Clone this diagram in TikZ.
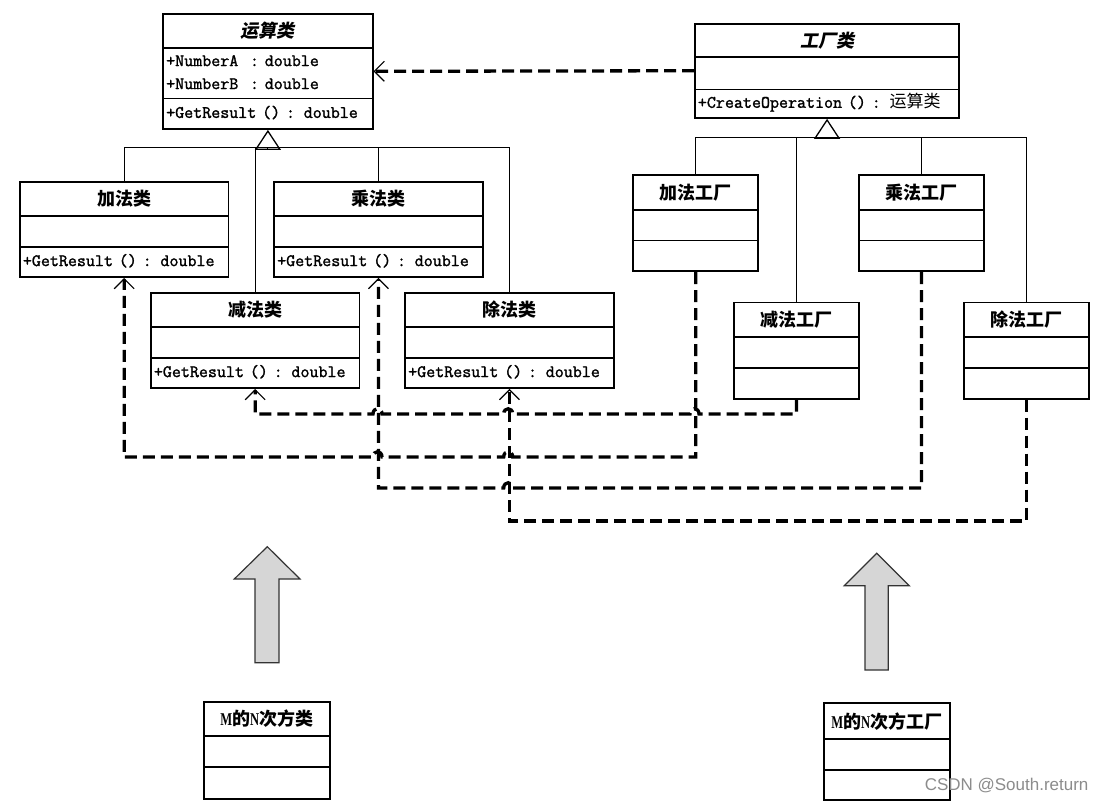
\documentclass[tikz,border=0pt]{standalone}
\usepackage{fontspec}
\usepackage{graphicx}
\setmonofont{Latin Modern Mono}[FakeBold=1.5]
\newfontfamily\cjk{Noto Sans CJK SC}
\newfontfamily\cjkit{Noto Sans CJK SC}[FakeSlant=0.2]
\newfontfamily\mnserif{Liberation Serif}
\newfontfamily\wmark{Liberation Sans}
\usetikzlibrary{positioning,shapes.multipart,arrows.meta}
\definecolor{blockgray}{RGB}{214,214,214}
\newcommand{\strt}[2]{\leavevmode\vrule width 0pt height #1pt depth #2pt\relax}
\newcommand{\ctitle}[3]{\makebox[\linewidth]{\strt{#1}{#2}\fontsize{18}{20}\selectfont\cjk\bfseries #3}}
\newcommand{\atitle}[3]{\makebox[\linewidth]{\strt{#1}{#2}\fontsize{18}{20}\selectfont\cjkit\bfseries #3}}
\newcommand{\mn}[1]{\scalebox{0.7}[1]{\mnserif\bfseries #1}}

\begin{document}
\begin{tikzpicture}[x=1pt,y=-1pt,cls/.style={rectangle split,rectangle split parts=3,
draw,line width=1.8pt,inner xsep=3pt,inner ysep=0pt,text width=#1,align=left,
anchor=north west,font=\ttfamily\fontsize{17.5}{23}\selectfont},prod/.style={cls=202.5pt},
fact/.style={cls=119pt},inh/.style={line width=1.1pt},
dep/.style={line width=3.3pt,dash pattern=on 12pt off 6pt,
-{Straight Barb[length=10pt,width=20pt,line width=1.2pt]}},
blk/.style={draw=black!80,fill=blockgray,line width=1.2pt}]
\path[fill=white] (0,0) rectangle (1105,803);

\node[cls=203.4pt] (op) at (162.3,12.7) {\atitle{23}{9.3}{运算类}
  \nodepart{two}\strt{17.5}{0}+NumberA\ \ : double\\\strt{0}{8.5}+NumberB\ \ : double
  \nodepart{three}\strt{18.5}{10.2}+GetResult () : double};
\node[prod] (add) at (19,180.7) {\ctitle{23}{9.5}{加法类}
  \nodepart{two}\strt{29}{0}
  \nodepart{three}\strt{18.5}{10}+GetResult () : double};
\node[prod,right=44pt of add] (mul) {\ctitle{23}{9.5}{乘法类}
  \nodepart{two}\strt{29}{0}
  \nodepart{three}\strt{18.5}{10}+GetResult () : double};
\node[prod] (sub) at (150,291.7) {\ctitle{23}{9.5}{减法类}
  \nodepart{two}\strt{29}{0}
  \nodepart{three}\strt{18.5}{10}+GetResult () : double};
\node[prod,right=44pt of sub] (div) {\ctitle{23}{9.5}{除法类}
  \nodepart{two}\strt{29}{0}
  \nodepart{three}\strt{18.5}{10}+GetResult () : double};

\node[cls=258.3pt] (fac) at (694,22.7) {\atitle{22.5}{9}{工厂类}
  \nodepart{two}\strt{30.7}{0}
  \nodepart{three}\strt{17.5}{9.2}+CreateOperation () : {\cjk\fontsize{17}{23}\selectfont 运算类}};
\node[fact] (addf) at (632.3,174) {\ctitle{23.5}{9.5}{加法工厂}
  \nodepart{two}\strt{29}{0}\nodepart{three}\strt{29}{0}};
\node[fact] (mulf) at (858,174) {\ctitle{23.5}{9.5}{乘法工厂}
  \nodepart{two}\strt{29}{0}\nodepart{three}\strt{29}{0}};
\node[fact] (subf) at (733,301.5) {\ctitle{23.5}{9.5}{减法工厂}
  \nodepart{two}\strt{29}{0}\nodepart{three}\strt{29}{0}};
\node[fact] (divf) at (963.3,301.5) {\ctitle{23.5}{9.5}{除法工厂}
  \nodepart{two}\strt{29}{0}\nodepart{three}\strt{29}{0}};

\node[cls=120.3pt] (mcls) at (202.7,700.7) {\ctitle{23}{9.6}{\mn{M}的\mn{N}次方类}
  \nodepart{two}\strt{29.4}{0}\nodepart{three}\strt{29.6}{0}};
\node[cls=120.3pt] (mfac) at (822.7,702.3) {\ctitle{24}{9.7}{\mn{M}的\mn{N}次方工厂}
  \nodepart{two}\strt{29.3}{0}\nodepart{three}\strt{28}{0}};

\coordinate (opbar) at (op.south |- 0,147.3);
\draw[inh] (add.north) |- (opbar) -| (div.north);
\draw[inh] (sub.north) -- (sub.north |- opbar);
\draw[inh] (mul.north) -- (mul.north |- opbar);
\draw[inh,-{Triangle[open,length=20pt,width=26pt,line width=1.3pt]}] (opbar) -- (op.south);

\coordinate (facbar) at (fac.south |- 0,137.3);
\draw[inh] (addf.north) |- (facbar) -| (divf.north);
\draw[inh] (subf.north) -- (subf.north |- facbar);
\draw[inh] (mulf.north) -- (mulf.north |- facbar);
\draw[inh,-{Triangle[open,length=20pt,width=26pt,line width=1.3pt]}] (facbar) -- (fac.south);

\draw[dep] (fac.west) -- (op.east);
\draw[dep] (subf.south) -- (subf.south |- 0,414)
  -- (699,414) .. controls (699,407) and (690,407) .. (690,414)
  -- (512.7,414) .. controls (512.7,407) and (503.7,407) .. (503.7,414)
  -- (382,414) .. controls (382,407) and (373,407) .. (373,414)
  -- (sub.south |- 0,414) -- (sub.south);
\draw[dep] (addf.south) -- (addf.south |- 0,457)
  -- (512.7,457) .. controls (512.7,450) and (503.7,450) .. (503.7,457)
  -- (382,457) .. controls (382,450) and (373,450) .. (373,457)
  -- (add.south |- 0,457) -- (add.south);
\draw[dep] (mulf.south) -- (mulf.south |- 0,488)
  -- (512.7,488) .. controls (512.7,481) and (503.7,481) .. (503.7,488)
  -- (mul.south |- 0,488) -- (mul.south);
\draw[dep] (divf.south) -- (divf.south |- 0,521) -- (div.south |- 0,521) -- (div.south);

\draw[blk] (267.3,546.7) -- (300,579) -- (279,579) -- (279,662.7) -- (255,662.7)
  -- (255,579) -- (234.3,579) -- cycle;
\draw[blk] (876.7,553.3) -- (909.3,585.7) -- (888.3,585.7) -- (888.3,670) -- (865,670)
  -- (865,585.7) -- (844.3,585.7) -- cycle;

\node[font=\wmark\fontsize{17}{17}\selectfont,text=black!45,anchor=east] (wm) at (1092,786) {CSDN @South.return};
\end{tikzpicture}
\end{document}
